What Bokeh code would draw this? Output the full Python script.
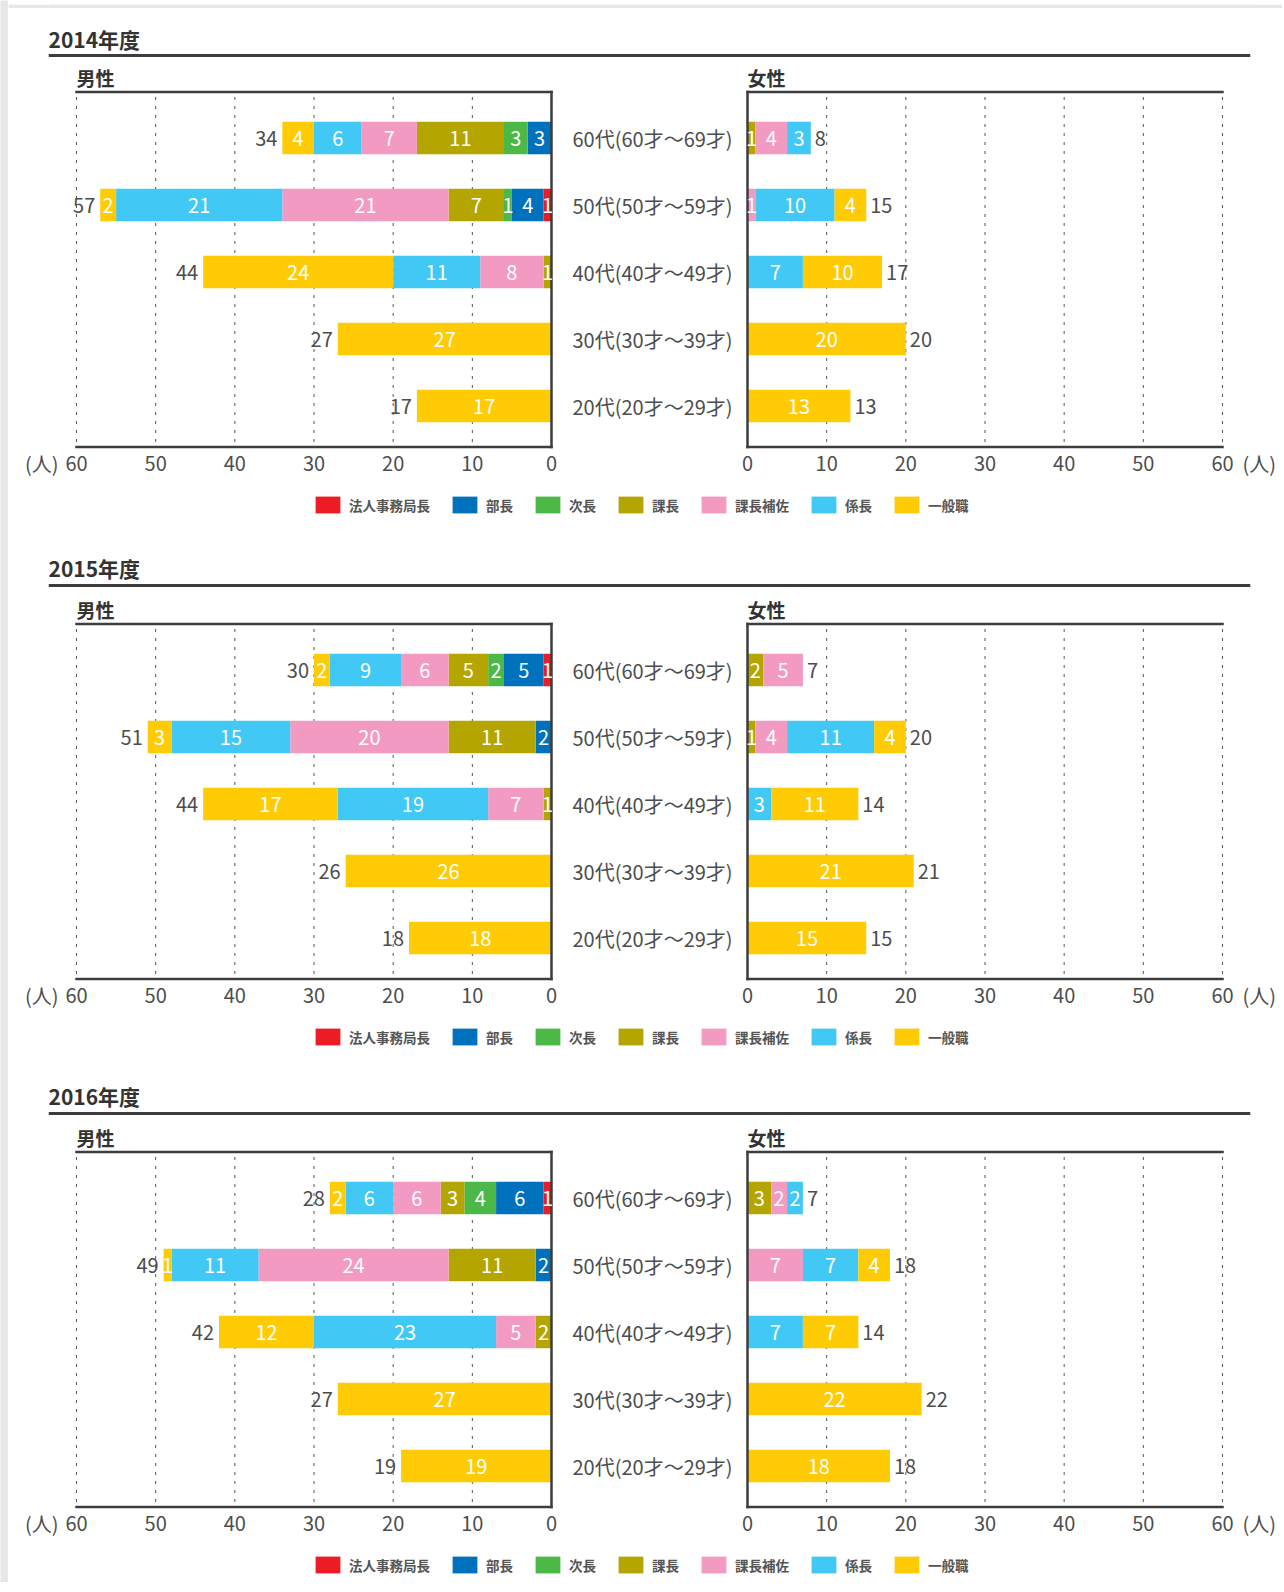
from bokeh.plotting import figure
from bokeh.models import Range1d, FixedTicker, Label, Legend, LegendItem, Span, ColumnDataSource
from bokeh.layouts import column, row
from bokeh.embed import file_html
from bokeh.resources import INLINE
from bokeh.core.properties import value

# ---------------- data ----------------
years = ["2014年度", "2015年度", "2016年度"]
# bottom (index 0) to top (index 4)
ages = ["20代(20才～29才)", "30代(30才～39才)", "40代(40才～49才)",
        "50代(50才～59才)", "60代(60才～69才)"]
positions = ["法人事務局長", "部長", "次長", "課長", "課長補佐", "係長", "一般職"]
colors = ["#ed1c24", "#0071bc", "#4cb848", "#b5a500", "#f39ac2", "#42c8f4", "#ffcb05"]
x_ticks = [0, 10, 20, 30, 40, 50, 60]
unit = "(人)"
sides = ["男性", "女性"]

male_2014 = {
    "法人事務局長": [0, 0, 0, 1, 0],
    "部長":         [0, 0, 0, 4, 3],
    "次長":         [0, 0, 0, 1, 3],
    "課長":         [0, 0, 1, 7, 11],
    "課長補佐":     [0, 0, 8, 21, 7],
    "係長":         [0, 0, 11, 21, 6],
    "一般職":       [17, 27, 24, 2, 4],
}
female_2014 = {
    "法人事務局長": [0, 0, 0, 0, 0],
    "部長":         [0, 0, 0, 0, 0],
    "次長":         [0, 0, 0, 0, 0],
    "課長":         [0, 0, 0, 0, 1],
    "課長補佐":     [0, 0, 0, 1, 4],
    "係長":         [0, 0, 7, 10, 3],
    "一般職":       [13, 20, 10, 4, 0],
}
male_2015 = {
    "法人事務局長": [0, 0, 0, 0, 1],
    "部長":         [0, 0, 0, 2, 5],
    "次長":         [0, 0, 0, 0, 2],
    "課長":         [0, 0, 1, 11, 5],
    "課長補佐":     [0, 0, 7, 20, 6],
    "係長":         [0, 0, 19, 15, 9],
    "一般職":       [18, 26, 17, 3, 2],
}
female_2015 = {
    "法人事務局長": [0, 0, 0, 0, 0],
    "部長":         [0, 0, 0, 0, 0],
    "次長":         [0, 0, 0, 0, 0],
    "課長":         [0, 0, 0, 1, 2],
    "課長補佐":     [0, 0, 0, 4, 5],
    "係長":         [0, 0, 3, 11, 0],
    "一般職":       [15, 21, 11, 4, 0],
}
male_2016 = {
    "法人事務局長": [0, 0, 0, 0, 1],
    "部長":         [0, 0, 0, 2, 6],
    "次長":         [0, 0, 0, 0, 4],
    "課長":         [0, 0, 2, 11, 3],
    "課長補佐":     [0, 0, 5, 24, 6],
    "係長":         [0, 0, 23, 11, 6],
    "一般職":       [19, 27, 12, 1, 2],
}
female_2016 = {
    "法人事務局長": [0, 0, 0, 0, 0],
    "部長":         [0, 0, 0, 0, 0],
    "次長":         [0, 0, 0, 0, 0],
    "課長":         [0, 0, 0, 0, 3],
    "課長補佐":     [0, 0, 0, 7, 2],
    "係長":         [0, 0, 7, 7, 2],
    "一般職":       [18, 22, 7, 4, 0],
}
year_data = [(male_2014, female_2014), (male_2015, female_2015), (male_2016, female_2016)]

# ---------------- style / layout ----------------
FONT = "Noto Sans CJK JP"
INK = "#4d4d4d"
DARK = "#333333"
RULE = "#3d3d3d"
GREY = "#e6e7e9"
PPU = 475.0 / 60.0          # pixels per person
ROW_PX = 67.0               # pixels between rows
CHART_H = 418               # height of a chart row
ROW_TOP = 75.5              # top of chart row to first bar centre
Y_LO = -41.0 / ROW_PX
Y_HI = 4 + 46.0 / ROW_PX
BAR_H = 32.5 / ROW_PX
TICK_DY = 16.0 / ROW_PX
HEAD_DY = 14.5 / ROW_PX
FIG_W = 1274
BORDER_L = 40               # left border shared by header / legend figures
BORDER_R = 32               # right border shared by header / legend figures
MALE_ZERO = 543             # px from male panel left to its zero line
MALE_EXT = 14               # frame room right of the zero line
MALE_RIGHT = 175
FEMALE_W = FIG_W - MALE_ZERO - MALE_EXT - MALE_RIGHT
FEMALE_PAD = 7
LEG_X = 264                 # legend left edge from frame left
LEG_BOTTOM = 35             # legend bottom from top of legend figure


def stacks(counts):
    srcs = []
    cum = [0] * len(ages)
    for pos in positions:
        ys, lefts, rights, mids, labels = [], [], [], [], []
        for i, v in enumerate(counts[pos]):
            if v > 0:
                ys.append(i)
                lefts.append(cum[i])
                rights.append(cum[i] + v)
                mids.append(cum[i] + v / 2.0)
                labels.append(str(v))
            cum[i] += v
        srcs.append(ColumnDataSource(dict(y=ys, left=lefts, right=rights, mid=mids, label=labels)))
    tot = ColumnDataSource(dict(y=list(range(len(ages))), total=cum, label=[str(t) for t in cum]))
    return srcs, tot


def txt(p, **kw):
    base = dict(text_font=value(FONT), text_font_size="20px", text_color=INK,
                text_baseline="middle")
    base.update(kw)
    return p.text(**base)


def panel(counts, male):
    y_range = Range1d(4 - (CHART_H - ROW_TOP) / ROW_PX, 4 + ROW_TOP / ROW_PX)
    x_max = x_ticks[-1]
    if male:
        p = figure(frame_width=MALE_ZERO + MALE_EXT, frame_height=CHART_H,
                   x_range=Range1d(MALE_ZERO / PPU, -MALE_EXT / PPU), y_range=y_range,
                   x_axis_type=None, y_axis_location="right",
                   min_border_left=0, min_border_right=MALE_RIGHT,
                   min_border_top=0, min_border_bottom=0,
                   output_backend="svg", toolbar_location=None, outline_line_color=None)
        ya = p.yaxis[0]
        ya.ticker = FixedTicker(ticks=list(range(len(ages))))
        ya.major_label_overrides = {i: a for i, a in enumerate(ages)}
        ya.major_tick_line_color = None
        ya.minor_tick_line_color = None
        ya.major_tick_out = 0
        ya.major_tick_in = 0
        ya.axis_line_color = None
        ya.major_label_text_font = FONT
        ya.major_label_text_font_size = "20px"
        ya.major_label_text_color = INK
        ya.major_label_standoff = 21 - MALE_EXT
    else:
        p = figure(frame_width=FEMALE_W, frame_height=CHART_H,
                   x_range=Range1d(-FEMALE_PAD / PPU, (FEMALE_W - FEMALE_PAD) / PPU),
                   y_range=y_range, x_axis_type=None, y_axis_type=None,
                   min_border_left=0, min_border_right=0,
                   min_border_top=0, min_border_bottom=0,
                   output_backend="svg", toolbar_location=None, outline_line_color=None)
    p.xgrid.visible = False
    p.ygrid.visible = False

    # dashed grid lines at the ticks
    gx = x_ticks[1:]
    p.segment(x0=gx, x1=gx, y0=[Y_LO] * len(gx), y1=[Y_HI] * len(gx),
              line_color="#555555", line_width=1, line_dash="3 6", line_dash_offset=4)

    srcs, tot = stacks(counts)
    for src, c in zip(srcs, colors):
        p.hbar(y="y", left="left", right="right", height=BAR_H, source=src,
               fill_color=c, line_color=None)

    # frame rules: top, bottom and the zero line
    p.segment(x0=[0, 0, 0], x1=[x_max, x_max, 0], y0=[Y_HI, Y_LO, Y_LO], y1=[Y_HI, Y_LO, Y_HI],
              line_color=RULE, line_width=2.5, line_cap="square")

    for src in srcs:
        txt(p, x="mid", y="y", text="label", source=src, text_color="white",
            text_align="center")
    txt(p, x="total", y="y", text="label", source=tot,
        x_offset=-5 if male else 4, text_align="right" if male else "left")

    # tick labels
    txt(p, x=x_ticks, y=[Y_LO - TICK_DY] * len(x_ticks), text=[str(t) for t in x_ticks],
        text_align="center")
    # unit label
    txt(p, x=[x_max], y=[Y_LO - TICK_DY], text=[unit],
        x_offset=-18 if male else 20, text_align="right" if male else "left")
    # panel heading
    txt(p, x=[x_max if male else 0], y=[Y_HI + HEAD_DY], text=[sides[0] if male else sides[1]],
        text_align="left", text_font_size="19px", text_font_style="bold", text_color=DARK)
    return p


def header(title, h, ty, ly):
    fw = FIG_W - BORDER_L - BORDER_R
    p = figure(width=FIG_W, height=h, x_range=Range1d(0, fw), y_range=Range1d(h, 0),
               x_axis_type=None, y_axis_type=None, min_border_left=BORDER_L,
               min_border_right=BORDER_R,
               min_border_top=0, min_border_bottom=0, outline_line_color=None,
               output_backend="svg", toolbar_location=None)
    p.xgrid.visible = False
    p.ygrid.visible = False
    p.add_layout(Label(x=0, y=ty, text=title, text_align="left", text_baseline="middle",
                       text_font=FONT, text_font_size="21px", text_font_style="bold",
                       text_color=DARK))
    p.add_layout(Span(location=ly, dimension="width", line_color=RULE, line_width=3))
    return p


def legend_fig(h):
    p = figure(width=FIG_W, height=h, x_range=Range1d(0, 1), y_range=Range1d(0, 1),
               x_axis_type=None, y_axis_type=None, min_border_left=BORDER_L,
               min_border_right=BORDER_R, min_border_top=0, min_border_bottom=0,
               outline_line_color=None, output_backend="svg", toolbar_location=None)
    p.xgrid.visible = False
    p.ygrid.visible = False
    items = []
    for pos, c in zip(positions, colors):
        # swatch renderer for the legend; it has no visible extent on the plot
        r = p.hbar(y=[0.5], left=[0], right=[0], height=0, fill_color=c, line_color=None)
        items.append(LegendItem(label=pos, renderers=[r]))
    leg = Legend(items=items, orientation="horizontal", location=(LEG_X, h - LEG_BOTTOM),
                 glyph_width=31, glyph_height=21, label_standoff=6, spacing=19,
                 label_text_font=FONT, label_text_font_size="13.5px",
                 label_text_font_style="bold", label_text_color="#555555",
                 border_line_color=None, background_fill_alpha=0, padding=0, margin=0)
    p.add_layout(leg)
    return p


def strip(w, h):
    p = figure(width=w, height=h, x_axis_type=None, y_axis_type=None,
               min_border_left=0, min_border_right=0, min_border_top=0, min_border_bottom=0,
               outline_line_color=None, background_fill_color=GREY, border_fill_color=GREY,
               output_backend="svg", toolbar_location=None)
    p.xgrid.visible = False
    p.ygrid.visible = False
    return p


head_specs = [(54, 30.5, 47), (58, 31, 49), (58, 31, 49)]
leg_heights = [56, 52, 42]

parts = [strip(FIG_W, 8)]
for yr, (m, f), hs, lh in zip(years, year_data, head_specs, leg_heights):
    parts.append(header(yr, *hs))
    parts.append(row(panel(m, True), panel(f, False)))
    parts.append(legend_fig(lh))

total_h = 8 + sum(h[0] for h in head_specs) + 3 * CHART_H + sum(leg_heights)
layout = row(strip(8, total_h), column(*parts))

open("out.html", "w").write(file_html(layout, INLINE))
